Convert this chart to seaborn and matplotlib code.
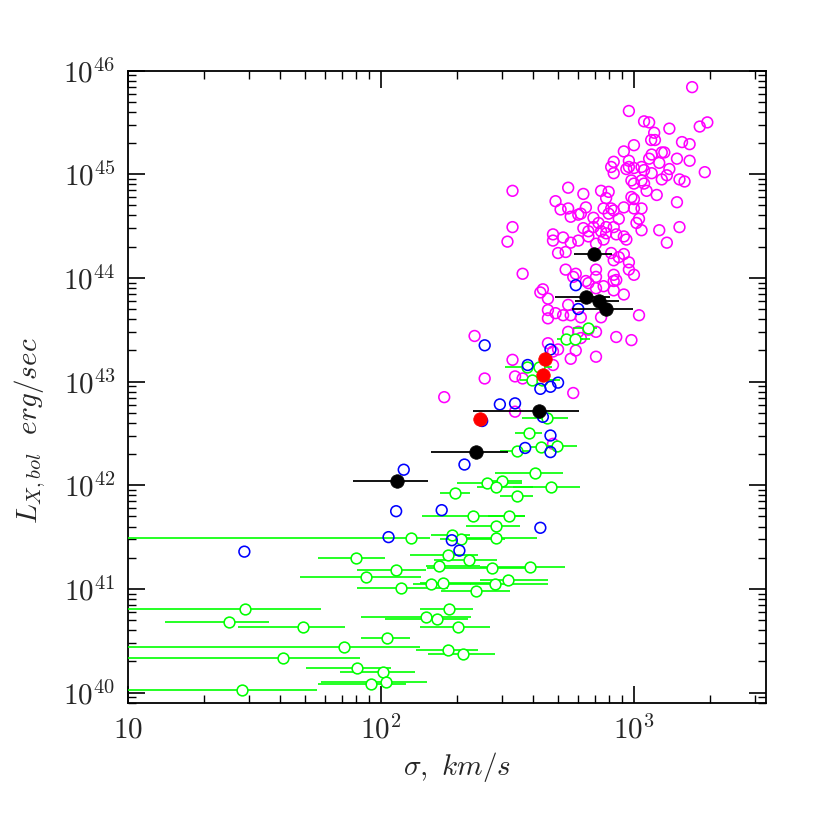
import numpy as np
import pandas as pd
import matplotlib
matplotlib.use("Agg")
import matplotlib.pyplot as plt
import seaborn as sns
from matplotlib.ticker import FixedLocator, FixedFormatter, LogLocator, NullFormatter

# ---------------- data (log10 sigma [km/s], log10 L [erg/s]) ----------------
mag_logsig = [3.23, 2.98, 3.04, 3.06, 3.14, 3.26, 3.29, 3.08, 3.068, 3.083,
              3.00, 3.19, 3.22, 2.96, 3.07, 3.06, 3.11, 3.12, 3.10, 3.17,
              3.22, 2.92, 2.91, 2.92, 2.98, 2.98, 2.97, 3.00, 3.03, 3.04,
              3.07, 3.03, 3.04, 2.99, 3.00, 3.14, 3.13, 3.11, 3.28, 3.18,
              3.20, 3.09, 3.05, 3.17, 2.52, 2.74, 2.80, 2.87, 2.90, 2.89,
              2.99, 3.00, 2.69, 2.71, 2.74, 2.75, 2.78, 2.81, 2.79, 2.88,
              2.91, 2.90, 2.92, 2.94, 2.96, 3.00, 3.03, 3.02, 3.01, 2.84,
              2.86, 2.84, 2.80, 2.82, 2.89, 2.92, 2.87, 2.89, 3.03, 3.10,
              3.18, 2.52, 2.50, 2.68, 2.68, 2.72, 2.75, 2.78, 2.70, 2.73,
              2.82, 2.85, 2.88, 2.93, 2.96, 2.97, 3.13, 2.91, 2.92, 2.94,
              2.96, 2.98, 2.73, 2.77, 2.76, 2.85, 2.92, 2.92, 2.93, 2.92,
              2.98, 3.00, 2.81, 2.82, 2.85, 2.96, 2.63, 2.64, 2.66, 2.56,
              2.88, 2.87, 2.66, 2.66, 2.69, 2.72, 2.75, 2.74, 2.79, 3.02,
              2.37, 2.74, 2.78, 2.85, 2.93, 2.99, 2.66, 2.68, 2.70, 2.75,
              2.85, 2.52, 2.25, 2.41, 2.53, 2.56, 2.68, 2.79, 2.77, 2.76,
              2.53, 2.68, 2.82, 2.85]
mag_logL = [45.84, 45.61, 45.51, 45.50, 45.44, 45.46, 45.50, 45.40, 45.33, 45.33,
            45.28, 45.31, 45.29, 45.22, 45.19, 45.15, 45.21, 45.21, 45.11, 45.15,
            45.13, 45.12, 45.07, 45.01, 45.13, 45.07, 45.05, 45.06, 45.07, 45.04,
            45.01, 44.94, 44.91, 44.94, 44.91, 45.05, 44.99, 44.95, 45.02, 44.95,
            44.93, 44.80, 44.84, 44.73, 44.84, 44.87, 44.81, 44.84, 44.83, 44.77,
            44.78, 44.76, 44.74, 44.66, 44.67, 44.59, 44.61, 44.68, 44.62, 44.67,
            44.67, 44.62, 44.65, 44.57, 44.68, 44.67, 44.67, 44.57, 44.53, 44.58,
            44.53, 44.49, 44.48, 44.45, 44.49, 44.49, 44.45, 44.43, 44.46, 44.46,
            44.49, 44.49, 44.35, 44.42, 44.36, 44.39, 44.34, 44.36, 44.24, 44.25,
            44.40, 44.33, 44.37, 44.42, 44.40, 44.37, 44.34, 44.24, 44.17, 44.20,
            44.23, 44.15, 44.08, 44.04, 44.01, 44.08, 44.03, 43.97, 43.98, 43.88,
            44.08, 44.03, 43.97, 43.95, 44.01, 43.84, 43.86, 43.89, 43.80, 44.04,
            43.92, 43.62, 43.69, 43.61, 43.66, 43.64, 43.64, 43.74, 43.62, 43.64,
            43.44, 43.48, 43.48, 43.48, 43.43, 43.40, 43.37, 43.29, 43.31, 43.22,
            43.24, 43.21, 42.85, 43.03, 43.05, 43.03, 43.16, 43.42, 43.30, 42.89,
            42.71, 42.40, 43.50, 43.90]

blue_logsig = [1.46, 2.03, 2.28, 2.31, 2.09, 2.33, 2.06, 2.24, 2.63, 2.57,
               2.67, 2.67, 2.41, 2.67, 2.58, 2.70, 2.67, 2.63, 2.47, 2.53,
               2.40, 2.64, 2.77, 2.78]
blue_logL = [41.36, 41.50, 41.47, 41.37, 42.15, 42.20, 41.75, 41.76, 41.59, 42.36,
             42.48, 42.32, 43.35, 43.31, 43.16, 42.99, 42.95, 42.93, 42.78, 42.79,
             42.62, 42.66, 43.93, 43.70]

green_logsig = [2.119, 2.281, 2.316, 2.455, 1.901, 2.265, 2.348, 2.059, 2.229, 1.941,
                2.198, 2.245, 2.079, 2.375, 1.462, 2.269, 1.399, 1.692, 2.178, 2.221,
                2.304, 2.024, 1.854, 2.265, 2.324, 1.613, 1.905, 2.008, 1.960, 2.020,
                1.451, 2.439, 2.589, 2.451, 2.502, 2.585, 2.538, 2.632, 2.696, 2.609,
                2.419, 2.478, 2.455, 2.672, 2.292, 2.538, 2.364, 2.506, 2.455, 2.656,
                2.577, 2.625, 2.597, 2.636, 2.731, 2.767, 2.818]
green_logL = [41.49, 41.52, 41.48, 41.49, 41.30, 41.33, 41.28, 41.18, 41.22, 41.12,
              41.05, 41.06, 41.01, 40.98, 40.81, 40.81, 40.68, 40.63, 40.73, 40.71,
              40.63, 40.53, 40.44, 40.41, 40.37, 40.33, 40.24, 40.20, 40.08, 40.10,
              40.03, 41.20, 41.21, 41.05, 41.09, 42.50, 42.33, 42.37, 42.38, 42.12,
              42.02, 42.04, 41.98, 41.98, 41.93, 41.90, 41.70, 41.70, 41.61, 42.65,
              43.14, 43.14, 43.02, 43.02, 43.41, 43.41, 43.52]
green_lo = [0.50, 2.198, 2.233, 2.332, 1.751, 2.115, 2.209, 1.905, 2.178, 1.680,
            2.126, 2.154, 1.905, 2.237, 0.50, 2.154, 1.146, 1.435, 1.921, 2.016,
            2.154, 1.921, 0.50, 2.138, 2.186, 0.50, 1.704, 1.838, 1.751, 1.763,
            0.50, 2.182, 2.391, 2.352, 2.391, 2.530, 2.470, 2.589, 2.640, 2.451,
            2.300, 2.419, 2.379, 2.522, 2.233, 2.470, 2.162, 2.423, 2.336, 2.557,
            2.490, 2.569, 2.549, 2.589, 2.696, 2.719, 2.759]
green_hi = [2.194, 2.352, 2.490, 2.617, 2.016, 2.383, 2.458, 2.178, 2.391, 2.158,
            2.356, 2.431, 2.265, 2.510, 1.763, 2.364, 1.557, 1.858, 2.356, 2.344,
            2.431, 2.115, 2.154, 2.383, 2.451, 1.917, 2.040, 2.134, 2.099, 2.182,
            1.747, 2.589, 2.727, 2.660, 2.660, 2.636, 2.589, 2.708, 2.775, 2.719,
            2.557, 2.557, 2.601, 2.787, 2.352, 2.601, 2.569, 2.569, 2.549, 2.739,
            2.628, 2.676, 2.708, 2.692, 2.798, 2.826, 2.854]

black_logsig = [2.062, 2.375, 2.625, 2.844, 2.811, 2.860, 2.889]
black_logL = [42.04, 42.32, 42.72, 44.23, 43.82, 43.78, 43.70]
black_lo = [1.888, 2.198, 2.365, 2.763, 2.688, 2.767, 2.754]
black_hi = [2.184, 2.503, 2.784, 2.912, 2.905, 2.942, 2.995]

red_logsig = [2.65, 2.64, 2.39]
red_logL = [43.22, 43.06, 42.64]

x_ticks = [10, 100, 1000]
x_ticklabels = [r"$10$", r"$10^2$", r"$10^3$"]
y_ticks = [1e40, 1e41, 1e42, 1e43, 1e44, 1e45, 1e46]
y_ticklabels = [r"$10^{40}$", r"$10^{41}$", r"$10^{42}$", r"$10^{43}$",
                r"$10^{44}$", r"$10^{45}$", r"$10^{46}$"]

# ---------------- tables ----------------
mag = pd.DataFrame({"sigma": 10 ** np.array(mag_logsig), "L": 10 ** np.array(mag_logL)})
blue = pd.DataFrame({"sigma": 10 ** np.array(blue_logsig), "L": 10 ** np.array(blue_logL)})
green = pd.DataFrame({"sigma": 10 ** np.array(green_logsig), "L": 10 ** np.array(green_logL),
                      "lo": 10 ** np.array(green_lo), "hi": 10 ** np.array(green_hi)})
black = pd.DataFrame({"sigma": 10 ** np.array(black_logsig), "L": 10 ** np.array(black_logL),
                      "lo": 10 ** np.array(black_lo), "hi": 10 ** np.array(black_hi)})
red = pd.DataFrame({"sigma": 10 ** np.array(red_logsig), "L": 10 ** np.array(red_logL)})

# ---------------- style ----------------
sns.set_style("ticks")
plt.rcParams["font.family"] = ["DejaVu Serif"]
plt.rcParams["mathtext.fontset"] = "cm"

fig = plt.figure(figsize=(8.3, 8.3), dpi=100)
ax = fig.add_axes([0.1542, 0.1530, 0.7687, 0.7620])
ax.set_xscale("log")
ax.set_yscale("log")

open_s = 60
lw_open = 1.15

sns.scatterplot(data=mag, x="sigma", y="L", ax=ax, marker="o", s=open_s,
                facecolor="none", edgecolor="#ff00ff", linewidth=lw_open, zorder=2)

ax.hlines(green["L"], green["lo"], green["hi"], color="#00ff00", lw=1.2, zorder=3)
sns.scatterplot(data=green, x="sigma", y="L", ax=ax, marker="o", s=open_s,
                facecolor="white", edgecolor="#00ff00", linewidth=lw_open, zorder=4)

sns.scatterplot(data=blue, x="sigma", y="L", ax=ax, marker="o", s=open_s,
                facecolor="none", edgecolor="#0000ff", linewidth=lw_open, zorder=5)

ax.hlines(black["L"], black["lo"], black["hi"], color="black", lw=1.3, zorder=6)
sns.scatterplot(data=black, x="sigma", y="L", ax=ax, marker="o", s=95,
                color="black", edgecolor="black", linewidth=0.5, zorder=7)
sns.scatterplot(data=red, x="sigma", y="L", ax=ax, marker="o", s=95,
                color="red", edgecolor="red", linewidth=0.5, zorder=8)

ax.set_xlim(10, 10 ** 3.522)
ax.set_ylim(10 ** 39.90, 1e46)

ax.xaxis.set_major_locator(FixedLocator(x_ticks))
ax.xaxis.set_major_formatter(FixedFormatter(x_ticklabels))
ax.yaxis.set_major_locator(FixedLocator(y_ticks))
ax.yaxis.set_major_formatter(FixedFormatter(y_ticklabels))
ax.xaxis.set_minor_locator(LogLocator(base=10, subs=np.arange(2, 10), numticks=20))
ax.yaxis.set_minor_locator(LogLocator(base=10, subs=np.arange(2, 10), numticks=20))
ax.xaxis.set_minor_formatter(NullFormatter())
ax.yaxis.set_minor_formatter(NullFormatter())

ax.tick_params(which="both", direction="in", top=True, right=True, color="black")
ax.tick_params(which="major", length=12, width=1.2, labelsize=21, pad=9)
ax.tick_params(which="minor", length=6, width=1.0)
for sp in ax.spines.values():
    sp.set_linewidth(1.3)
    sp.set_color("black")

ax.set_xlabel(r"$\sigma,\ km/s$", fontsize=21)
ax.set_ylabel(r"$L_{X,bol}\ \ erg/sec$", fontsize=21)
ax.xaxis.set_label_coords(0.516, -0.075)
ax.yaxis.set_label_coords(-0.125, 0.43)

fig.savefig("out.png", dpi=100, facecolor="white")
